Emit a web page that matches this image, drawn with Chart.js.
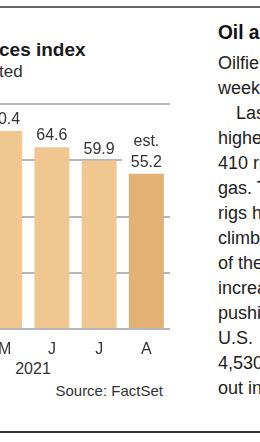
<!DOCTYPE html>
<html>
<head>
<meta charset="utf-8">
<script src="https://cdn.jsdelivr.net/npm/chart.js@4.4.1/dist/chart.umd.min.js"></script>
<style>
  html, body { margin: 0; padding: 0; background: #fff; }
  body { width: 260px; height: 442px; overflow: hidden; position: relative;
         font-family: "Liberation Sans", Arial, Helvetica, sans-serif; color: #222; }
  .abs { position: absolute; white-space: nowrap; }
  #topRule { left: 0; top: 6px; width: 260px; height: 2px; background: #666; }
  #bottomRule { left: 0; top: 431px; width: 260px; height: 2px; background: #333; }
  #title { left: -1px; top: 38px; font-size: 19px; line-height: 24px; font-weight: bold; color: #1a1a1a; }
  #subtitle { left: -1px; top: 61px; font-size: 17px; line-height: 22px; color: #333; }
  #year { left: 13px; top: 359px; width: 40px; text-align: center; font-size: 16px; line-height: 20px; color: #333; }
  #source { right: 97px; top: 381px; font-size: 15px; line-height: 20px; color: #333; }
  #chartBox { position: absolute; left: -19px; top: 94px; width: 189px; height: 265px; }
  #story { left: 218px; top: 0; }
  #story h2 { position: absolute; left: 0; top: 19px; margin: 0; font-family: "Liberation Sans", Arial, sans-serif;
              font-size: 21px; line-height: 25px; font-weight: bold; color: #111; white-space: nowrap;
              transform: scaleX(0.91); transform-origin: 0 0; }
  #story .body { position: absolute; left: 0; top: 51px; font-size: 18px; line-height: 25px; color: #222; white-space: nowrap; }
  #story .body div.ind { padding-left: 18px; }
</style>
</head>
<body>
<div class="abs" id="topRule"></div>
<div class="abs" id="title">ces index</div>
<div class="abs" id="subtitle">ted</div>
<div id="chartBox"><canvas id="indexChart"></canvas></div>
<div class="abs" id="year">2021</div>
<div class="abs" id="source">Source: FactSet</div>
<div class="abs" id="story">
  <h2>Oil and</h2>
  <div class="body">
    <div>Oilfield</div>
    <div>week</div>
    <div class="ind">Last</div>
    <div>higher</div>
    <div>410 rigs</div>
    <div>gas. The</div>
    <div>rigs have</div>
    <div>climbed</div>
    <div>of the</div>
    <div>increase</div>
    <div>pushing</div>
    <div>U.S.</div>
    <div>4,530</div>
    <div>out in</div>
  </div>
</div>
<div class="abs" id="bottomRule"></div>

<script>
'use strict';
//** Data */

let months = ['M', 'J', 'J', 'A'];
let indexvalues = [70.4, 64.6, 59.9, 55.2];
let estimated = [false, false, false, true];
let yticks = [0, 20, 40, 60, 80];

let barcolors = ['#f0c791', '#f0c791', '#f0c791', '#e3b174'];
let gridcolor = '#b5b5ba';
let labelfont = '"Liberation Sans", Arial, Helvetica, sans-serif';

//** Value labels above bars, with a white box behind them */

const valueLabels = {
  id: 'valueLabels',
  afterDatasetsDraw(chart) {
    let c = chart.ctx;
    let meta = chart.getDatasetMeta(0);
    c.save();
    c.font = '16px ' + labelfont;
    c.textAlign = 'center';
    c.textBaseline = 'alphabetic';
    meta.data.forEach((bar, i) => {
      let lines = [indexvalues[i].toFixed(1)];
      if (estimated[i]) {
        lines.unshift('est.');
      }
      let base = bar.y - 7;
      let w = Math.max(...lines.map(l => c.measureText(l).width));
      let top = base - 12 - (lines.length - 1) * 21;
      c.fillStyle = '#fff';
      c.fillRect(bar.x - w / 2 - 9, top - 3, w + 18, base - top + 5);
      c.fillStyle = '#333';
      lines.forEach((l, j) => {
        c.fillText(l, bar.x, base - (lines.length - 1 - j) * 21);
      });
    });
    c.restore();
  }
};

let ctx = document.getElementById('indexChart');

let chartObj = {
  type: 'bar',
  data: {
    labels: months,
    datasets: [{
      data: indexvalues,
      backgroundColor: barcolors,
      borderWidth: 0,
      barPercentage: 0.74,
      categoryPercentage: 1
    }]
  },
  options: {
    responsive: true,
    maintainAspectRatio: false,
    animation: false,
    devicePixelRatio: 1,
    layout: { padding: { top: 10, left: 0, right: 0, bottom: 0 } },
    plugins: {
      legend: { display: false },
      tooltip: { enabled: false }
    },
    scales: {
      x: {
        grid: { display: false },
        border: { display: false },
        ticks: {
          color: '#333',
          padding: 3,
          font: { size: 16, family: labelfont }
        },
        afterFit: (scale) => { scale.height = 30; }
      },
      y: {
        min: yticks[0],
        max: yticks[yticks.length - 1],
        afterBuildTicks: (scale) => { scale.ticks = yticks.map(v => ({ value: v })); },
        border: { display: false },
        grid: { color: gridcolor, lineWidth: 2, drawTicks: false },
        ticks: { display: false }
      }
    }
  },
  plugins: [valueLabels]
};

let indexchart = new Chart(ctx, chartObj);
</script>
</body>
</html>
